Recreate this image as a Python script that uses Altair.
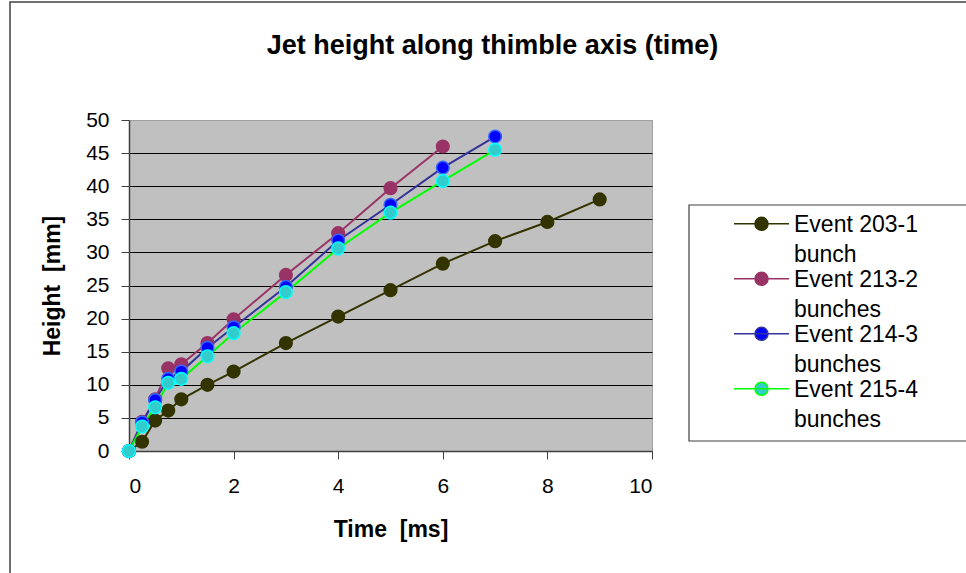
import altair as alt
import pandas as pd

# ---- data ----
series_names = [
    "Event 203-1|bunch",
    "Event 213-2|bunches",
    "Event 214-3|bunches",
    "Event 215-4|bunches",
]
times_203 = [0, 0.25, 0.5, 0.75, 1, 1.5, 2, 3, 4, 5, 6, 7, 8, 9]
height_203 = [0, 1.4, 4.6, 6.1, 7.8, 10.0, 12.0, 16.3, 20.3, 24.3, 28.3, 31.7, 34.6, 38.0]
times_213 = [0, 0.25, 0.5, 0.75, 1, 1.5, 2, 3, 4, 5, 6]
height_213 = [0, 4.4, 7.8, 12.5, 13.1, 16.3, 19.9, 26.6, 32.9, 39.7, 46.0]
times_214 = [0, 0.25, 0.5, 0.75, 1, 1.5, 2, 3, 4, 5, 6, 7]
height_214 = [0, 4.3, 7.7, 10.9, 12.0, 15.6, 18.7, 24.8, 31.8, 37.2, 42.8, 47.5]
times_215 = [0, 0.25, 0.5, 0.75, 1, 1.5, 2, 3, 4, 5, 6, 7]
height_215 = [0, 3.7, 6.6, 10.3, 10.9, 14.3, 17.8, 24.0, 30.6, 36.0, 40.8, 45.5]

x_ticks = [0, 2, 4, 6, 8, 10]
y_ticks = [0, 5, 10, 15, 20, 25, 30, 35, 40, 45, 50]

line_colors = ["#333300", "#993366", "#333399", "#00FF00"]
fill_colors = ["#333300", "#993366", "#0000FF", "#33CCCC"]
edge_colors = ["#333300", "#993366", "#3366FF", "#00FFFF"]

rows = []
for name, ts, hs in zip(series_names,
                        [times_203, times_213, times_214, times_215],
                        [height_203, height_213, height_214, height_215]):
    for i, (t, h) in enumerate(zip(ts, hs)):
        rows.append({"series": name, "time": t, "height": h, "idx": i})
df = pd.DataFrame(rows)

FONT = "Liberation Sans"
NBSP = "\u00a0"

x_enc = alt.X("time:Q", scale=alt.Scale(domain=[0, 10], nice=False),
              axis=alt.Axis(values=x_ticks, title="Time" + NBSP * 2 + "[ms]", grid=False,
                            labelPadding=16, titlePadding=22))
y_enc = alt.Y("height:Q", scale=alt.Scale(domain=[0, 50], nice=False),
              axis=alt.Axis(values=y_ticks, title="Height" + NBSP * 2 + "[mm]", grid=True,
                            gridColor={"condition": {"test": "datum.value === 50", "value": "#a0a0a0"},
                                       "value": "#000000"},
                            labelPadding=12, titlePadding=21))

# legend glyph: line with a dot (unit = 10 px at symbolSize 400)
legend_path = ("M-2.75,-0.77L2.75,-0.77M-0.65,-0.77A0.65,0.65,0,1,1,0.65,-0.77"
               "A0.65,0.65,0,1,1,-0.65,-0.77Z")
label_expr = "split(datum.label, '|')"

leg = alt.Legend(title=None, labelExpr=label_expr)

base = alt.Chart(df)

frame = alt.Chart(pd.DataFrame({"f": [0]})).mark_rect(
    fill="transparent", stroke="#404040", strokeWidth=1.5
).encode(x=alt.value(-119), x2=alt.value(860), y=alt.value(-118), y2=alt.value(480))

legend_box = alt.Chart(pd.DataFrame({"f": [0]})).mark_rect(
    fill="white", stroke="#404040", strokeWidth=1.2
).encode(x=alt.value(560), x2=alt.value(860), y=alt.value(85), y2=alt.value(321))

lines = base.mark_line(strokeWidth=2).encode(
    x=x_enc, y=y_enc,
    stroke=alt.Stroke("series:N", scale=alt.Scale(domain=series_names, range=line_colors), legend=leg),
    order="idx:Q",
)

points = base.mark_point(filled=False, shape="circle", size=160, strokeWidth=1.5, opacity=1).encode(
    x=x_enc, y=y_enc,
    fill=alt.Fill("series:N", scale=alt.Scale(domain=series_names, range=fill_colors), legend=leg),
    color=alt.Color("series:N", scale=alt.Scale(domain=series_names, range=edge_colors), legend=None),
)

chart = alt.layer(frame, legend_box, lines, points).properties(
    width=523, height=331,
    title=alt.TitleParams("Jet height along thimble axis (time)", font=FONT, fontSize=27,
                          fontWeight="bold", anchor="middle", frame="group", dx=102, offset=-59),
    autosize=alt.AutoSizeParams(type="none"),
    padding={"left": 129, "top": 120, "right": 314, "bottom": 122},
).configure(
    background="white",
    style={"guide-label": {"lineHeight": 30}},
).configure_view(
    fill="#C0C0C0", stroke="#a0a0a0", strokeWidth=1,
).configure_axis(
    labelFont=FONT, labelFontSize=21, labelColor="black",
    titleFont=FONT, titleFontSize=23, titleFontWeight="bold", titleColor="black",
    domainColor="#404040", domainWidth=1.5, tickColor="#404040", tickSize=8,
    gridWidth=1,
).configure_legend(
    orient="none", legendX=560, legendY=93,
    labelFont=FONT, labelFontSize=23, labelColor="black", labelLimit=500,
    labelBaseline="alphabetic",
    labelOffset=21, symbolType=legend_path, symbolSize=400, symbolStrokeWidth=1.5,
    symbolOffset=54, padding=7, rowPadding=1,
)

chart.save("out.html", embed_options={"renderer": "svg", "actions": False})
